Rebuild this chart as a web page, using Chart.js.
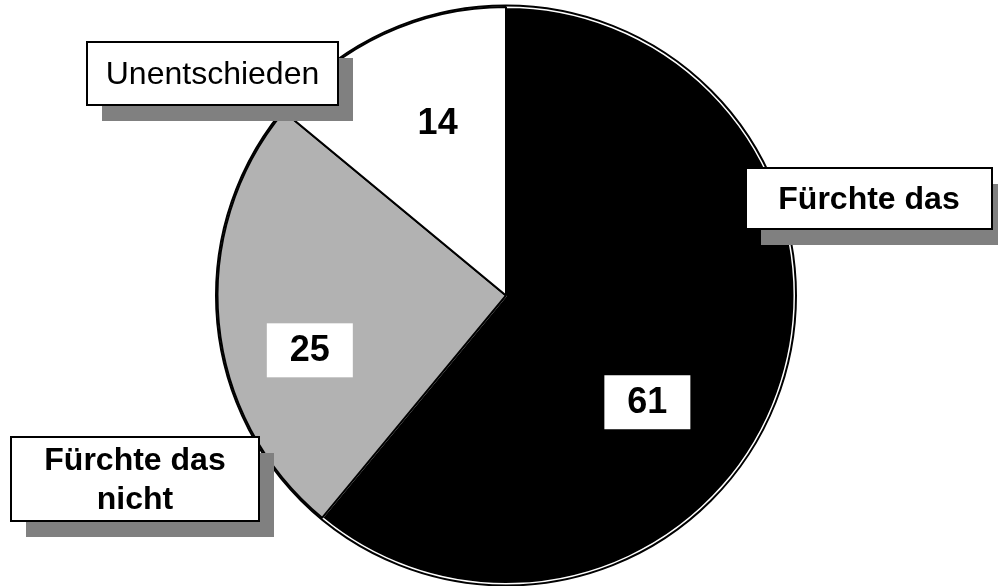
<!DOCTYPE html>
<html>
<head>
<meta charset="utf-8">
<script src="https://cdn.jsdelivr.net/npm/chart.js@4.4.1/dist/chart.umd.min.js"></script>
<style>
  html, body { margin: 0; padding: 0; background: #fff; }
  #wrap { width: 998px; height: 586px; position: relative; }
</style>
</head>
<body>
<div id="wrap"><canvas id="c" width="998" height="586"></canvas></div>
<script>
// ---- data ----
const categories = ['Fürchte das', 'Fürchte das nicht', 'Unentschieden'];
const values = [61, 25, 14];
const sliceColors = ['#000000', '#b2b2b2', '#ffffff'];

// ---- annotation plugin: value labels and category callout boxes ----
const FONT = '"Liberation Sans", Arial, sans-serif';
const valueLabelOffsets = [ [0.49, 0.37, true], [-0.68, 0.19, true], [-0.237, -0.597, false] ];
const calloutBoxes = [
  { x: 746, y: 168, w: 246, h: 61, lines: ['Fürchte das'], bold: true },
  { x: 11, y: 437, w: 248, h: 84, lines: ['Fürchte das', 'nicht'], bold: true },
  { x: 87, y: 42, w: 251, h: 63, lines: ['Unentschieden'], bold: false }
];

const annot = {
  id: 'annot',
  afterDatasetsDraw(chart) {
    const ctx = chart.ctx;
    const meta = chart.getDatasetMeta(0);
    const arc0 = meta.data[0];
    const cx = arc0.x, cy = arc0.y, r = arc0.outerRadius;
    // outer outline
    ctx.save();
    ctx.beginPath();
    ctx.arc(cx, cy, r + 1.5, 0, Math.PI * 2);
    ctx.strokeStyle = '#000';
    ctx.lineWidth = 2;
    ctx.stroke();
    ctx.restore();

    // value labels
    ctx.save();
    ctx.font = 'bold 36px ' + FONT;
    ctx.textAlign = 'center';
    ctx.textBaseline = 'middle';
    meta.data.forEach((a, i) => {
      const [fx, fy, box] = valueLabelOffsets[i];
      const x = cx + fx * r, y = cy + fy * r;
      if (box) {
        ctx.fillStyle = '#fff';
        ctx.fillRect(x - 43, y - 27, 86, 54);
      }
      ctx.fillStyle = '#000';
      ctx.fillText(String(values[i]), x, y + 1);
    });
    ctx.restore();

    // category callouts
    calloutBoxes.forEach((b, i) => {
      ctx.save();
      ctx.fillStyle = '#808080';
      ctx.fillRect(b.x + 15, b.y + 16, b.w, b.h);
      ctx.fillStyle = '#fff';
      ctx.fillRect(b.x, b.y, b.w, b.h);
      ctx.strokeStyle = '#000';
      ctx.lineWidth = 2;
      ctx.strokeRect(b.x, b.y, b.w, b.h);
      ctx.fillStyle = '#000';
      ctx.font = (b.bold ? 'bold ' : '') + '32px ' + FONT;
      ctx.textAlign = 'center';
      ctx.textBaseline = 'middle';
      const lh = 39;
      const n = b.lines.length;
      b.lines.forEach((t, k) => {
        ctx.fillText(t, b.x + b.w / 2, b.y + b.h / 2 + (k - (n - 1) / 2) * lh + 2);
      });
      ctx.restore();
    });
  }
};

new Chart(document.getElementById('c'), {
  type: 'pie',
  data: {
    labels: categories,
    datasets: [{
      data: values,
      backgroundColor: sliceColors,
      borderColor: ['#ffffff', '#000000', '#000000'],
      borderWidth: 2
    }]
  },
  options: {
    responsive: false,
    animation: false,
    rotation: 0,
    layout: { padding: { top: 6, bottom: 1, left: 14, right: 0 } },
    plugins: { legend: { display: false }, tooltip: { enabled: false } }
  },
  plugins: [annot]
});
</script>
</body>
</html>
